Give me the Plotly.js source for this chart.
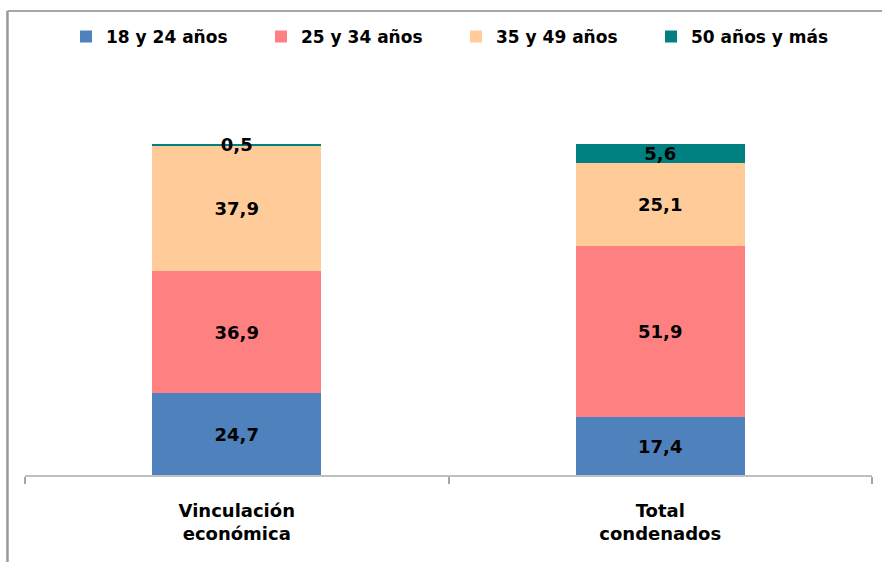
<!DOCTYPE html>
<html>
<head>
<meta charset="utf-8">
<script src="https://cdn.plot.ly/plotly-3.0.1.min.js"></script>
<style>html,body{margin:0;padding:0;background:#fff;}#chart{width:882px;height:562px;}</style>
</head>
<body>
<div id="chart"></div>
<script>
const categories = ["Vinculación<br>económica", "Total<br>condenados"];
const seriesNames = ["18 y 24 años", "25 y 34 años", "35 y 49 años", "50 años y más"];
const age18_24 = [24.7, 17.4];
const age25_34 = [36.9, 51.9];
const age35_49 = [37.9, 25.1];
const age50plus = [0.5, 5.6];
const colors = ["#4F81BD", "#FF8080", "#FFCC99", "#008080"];

const seriesValues = [age18_24, age25_34, age35_49, age50plus];
const font = {family: "DejaVu Sans, Verdana, sans-serif", size: 18, color: "#000", weight: "bold"};

const traces = seriesValues.map((vals, i) => ({
  type: "bar",
  name: seriesNames[i],
  x: categories,
  y: vals,
  marker: {color: colors[i], line: {width: 0}},
  texttemplate: "%{y:.1f}",
  textposition: "inside",
  insidetextanchor: "middle",
  textangle: 0,
  constraintext: "none",
  textfont: font,
  hoverinfo: "skip"
}));

const layout = {
  width: 882, height: 562,
  margin: {l: 25, r: 10, t: 80, b: 87},
  barmode: "stack",
  bargap: 0.6,
  separators: ",.",
  paper_bgcolor: "#fff", plot_bgcolor: "#fff",
  uniformtext: {mode: "show", minsize: 18},
  showlegend: true,
  legend: {
    orientation: "h", traceorder: "normal",
    x: 0.0484, xanchor: "left", y: 1.109, yanchor: "middle",
    font: {family: "DejaVu Sans, Verdana, sans-serif", size: 17, color: "#000", weight: "bold"},
    entrywidth: 150, entrywidthmode: "pixels",
    bgcolor: "rgba(0,0,0,0)"
  },
  xaxis: {
    type: "category",
    showline: true, linecolor: "#bfbfbf", linewidth: 2,
    ticks: "outside", ticklen: 7, tickwidth: 2, tickcolor: "#a6a6a6",
    tickson: "boundaries",
    showgrid: false, zeroline: false,
    tickfont: {family: "DejaVu Sans, Verdana, sans-serif", size: 18, color: "#000", weight: "bold"},
    ticklabelstandoff: 18,
    fixedrange: true
  },
  yaxis: {
    range: [0, 119.34], visible: false, showgrid: false, zeroline: false, fixedrange: true
  },
  shapes: [
    {type: "line", xref: "paper", yref: "paper", x0: -0.0207, x1: 1.05, y0: 1.1747, y1: 1.1747,
     line: {color: "#a6a6a6", width: 2}},
    {type: "line", xref: "paper", yref: "paper", x0: -0.0207, x1: -0.0207, y0: -0.3, y1: 1.1747,
     line: {color: "#999999", width: 2.5}}
  ],
  hovermode: false
};

Plotly.newPlot("chart", traces, layout, {displayModeBar: false, staticPlot: true});
</script>
</body>
</html>
